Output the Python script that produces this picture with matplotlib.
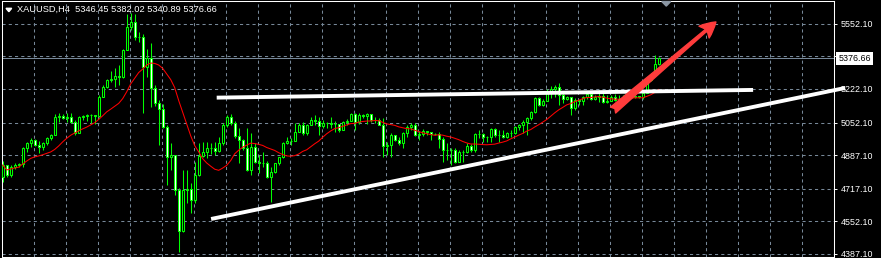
import matplotlib
matplotlib.use("Agg")
import matplotlib.pyplot as plt
from matplotlib.patches import Polygon
import numpy as np
import pandas as pd

plt.rcParams['font.family'] = ['Liberation Sans', 'DejaVu Sans']

symbol = "XAUUSD,H4"
first_open = 4776
closes = [
    4837, 4787, 4827, 4837, 4842, 4923, 4948, 4964, 4938, 4928,
    4948, 4974, 4989, 5080, 5085, 5075, 5080, 5055, 4999, 5080,
    5085, 5090, 5090, 5085, 5181, 5232, 5267, 5272, 5287, 5282,
    5419, 5535, 5561, 5485, 5485, 5333, 5379, 5227, 5151, 5120,
    5029, 4878, 4888, 4711, 4503, 4711, 4716, 4660, 4787, 4883,
    4903, 4923, 4923, 4908, 4948, 5040, 5080, 5050, 4984, 4964,
    4923, 4812, 4928, 4852, 4847, 4847, 4776, 4802, 4847, 4878,
    4948, 4959, 4959, 5004, 5040, 4999, 5040, 5065, 5060, 5034,
    5050, 5050, 5045, 5045, 5014, 5055, 5060, 5095, 5055, 5090,
    5085, 5095, 5065, 5065, 5040, 4933, 4938, 4989, 4964, 4948,
    4999, 5029, 5040, 4989, 4994, 5009, 5004, 4994, 4994, 4969,
    4913, 4913, 4913, 4852, 4903, 4903, 4933, 4913, 4994, 4994,
    4979, 4979, 5019, 4989, 4989, 4979, 4999, 4999, 5029, 5040,
    5055, 5075, 5105, 5176, 5141, 5161, 5201, 5222, 5232, 5191,
    5171, 5181, 5126, 5166, 5161, 5181, 5196, 5171, 5181, 5186,
    5156, 5161, 5181, 5166, 5171, 5176, 5186, 5181, 5186, 5181,
    5201, 5267, 5293, 5346.45, 5376.66,
]
highs = [
    4857, 4837, 4837, 4847, 4847, 4928, 4953, 4974, 4969, 4959,
    4953, 4979, 4994, 5095, 5100, 5095, 5100, 5100, 5065, 5085,
    5090, 5095, 5095, 5090, 5191, 5242, 5272, 5313, 5328, 5343,
    5424, 5601, 5606, 5601, 5510, 5500, 5424, 5454, 5242, 5166,
    5146, 5040, 4948, 4888, 4721, 4812, 4812, 4746, 4852, 4948,
    4953, 4953, 4948, 4953, 4979, 5050, 5090, 5095, 5060, 5024,
    4969, 5024, 4999, 4948, 4888, 4903, 4857, 4827, 4847, 4878,
    4953, 4979, 4974, 5050, 5050, 5055, 5045, 5080, 5090, 5080,
    5065, 5055, 5080, 5060, 5045, 5060, 5070, 5100, 5100, 5100,
    5095, 5100, 5075, 5080, 5075, 5075, 4953, 4999, 4989, 4979,
    5004, 5040, 5050, 5050, 5009, 5019, 5009, 5004, 4999, 5004,
    4979, 4948, 4923, 4923, 4913, 4913, 4948, 4943, 4999, 5014,
    4999, 4984, 5024, 5024, 5014, 5014, 5004, 5014, 5034, 5045,
    5065, 5080, 5110, 5181, 5181, 5171, 5222, 5237, 5242, 5252,
    5201, 5186, 5181, 5176, 5166, 5186, 5201, 5196, 5191, 5217,
    5201, 5191, 5191, 5196, 5191, 5191, 5191, 5186, 5191, 5186,
    5206, 5277, 5303, 5394, 5382.02,
]
lows = [
    4751, 4776, 4776, 4817, 4827, 4827, 4903, 4928, 4933, 4898,
    4913, 4938, 4964, 4994, 5055, 5070, 5055, 5050, 4989, 5009,
    5065, 5060, 5050, 5045, 5080, 5181, 5227, 5257, 5232, 5242,
    5277, 5419, 5520, 5470, 5459, 5100, 5282, 5131, 5136, 4938,
    5024, 4736, 4812, 4685, 4397, 4498, 4645, 4594, 4645, 4781,
    4878, 4873, 4893, 4888, 4903, 4938, 5029, 5040, 4974, 4847,
    4913, 4807, 4787, 4847, 4797, 4827, 4771, 4650, 4797, 4837,
    4873, 4943, 4938, 4979, 5004, 4989, 4989, 5040, 5040, 4989,
    5024, 5024, 5024, 5004, 5004, 5019, 5040, 5060, 5014, 5045,
    5075, 5045, 5055, 5050, 5040, 4878, 4888, 4878, 4959, 4938,
    4923, 4979, 5014, 4984, 4964, 4984, 4989, 4964, 4989, 4923,
    4852, 4862, 4837, 4847, 4862, 4852, 4898, 4903, 4903, 4974,
    4953, 4953, 4953, 4979, 4953, 4974, 4974, 4979, 4994, 5014,
    4999, 4989, 5065, 5100, 5136, 5136, 5161, 5176, 5181, 5141,
    5151, 5166, 5090, 5115, 5141, 5141, 5171, 5166, 5166, 5156,
    5151, 5151, 5171, 5161, 5141, 5141, 5176, 5176, 5176, 5176,
    5171, 5201, 5262, 5298, 5340.89,
]
price_ticks = [5552.10, 5387.10, 5222.10, 5052.10, 4887.10, 4717.10, 4552.10, 4387.10]
ma_period = 14

# drawn objects as (bar index, price)
resistance = [(53.5, 5178), (187.6, 5217)]
support = [(52.1, 4564), (210.6, 5227)]
arrow_tail = (152.6, 5115)
arrow_tip = (178.3, 5561)

GREEN = "#00ff00"
GRID = "#778899"

opens = [first_open] + closes[:-1]
x = np.arange(len(closes))
ma = pd.Series(closes).rolling(ma_period, min_periods=1).mean()

fig = plt.figure(figsize=(8.81, 2.58), dpi=100, facecolor="black")
ax = fig.add_axes([2 / 881, 1 / 258, 832 / 881, 256 / 258])
ax.set_facecolor("black")
ax.set_xlim(-0.175, 207.8)
ax.set_ylim(4371.6, 5667)

# grid
ax.set_xticks(np.arange(7.825, 208, 8))
ax.set_yticks(price_ticks)
ax.grid(True, color=GRID, linestyle=(0, (3, 3)), linewidth=0.75, zorder=0)
ax.set_axisbelow(True)

# candles
ax.vlines(x, lows, highs, color=GREEN, linewidth=0.75, zorder=2)
for i in x:
    o, c = opens[i], closes[i]
    fill = "black" if c > o else "white"
    ax.bar(i, abs(c - o), width=0.6, bottom=min(o, c), color=fill,
           edgecolor=GREEN, linewidth=0.75, zorder=3)

# moving average
ax.plot(x, ma, color="#ff0000", linewidth=0.75, zorder=4)

# bid line
ax.axhline(closes[-1], color=GRID, linewidth=0.75, zorder=1)

# trend lines and arrow
for (x0, p0), (x1, p1) in [resistance, support]:
    ax.plot([x0, x1], [p0, p1], color="white", linewidth=2.8,
            solid_capstyle="butt", clip_on=False, zorder=6)
ax.annotate("", xy=arrow_tip, xytext=arrow_tail, annotation_clip=False,
            arrowprops=dict(arrowstyle="fancy,head_length=0.8,head_width=0.8,tail_width=0.4",
                            color="#ff3c3c", mutation_scale=14, shrinkA=0, shrinkB=0),
            zorder=7)

# axes styling
for s in ax.spines.values():
    s.set_color("white")
    s.set_linewidth(0.75)
ax.yaxis.tick_right()
# the 5387.10 label sits under the bid price box in the terminal
ax.set_yticklabels(["" if abs(v - 5387.10) < 0.01 else f"{v:.2f}" for v in price_ticks])
ax.tick_params(axis="y", colors="white", length=2.2, width=0.7, pad=2.4, labelsize=6.4)
ax.tick_params(axis="x", length=0, labelbottom=False)

# current price box
ax.annotate(f"{closes[-1]:.2f}", xy=(1, closes[-1]), xycoords=("axes fraction", "data"),
            xytext=(3.2, 0), textcoords="offset points", va="center", ha="left",
            fontsize=6.4, color="black", annotation_clip=False,
            bbox=dict(boxstyle="square,pad=0.25", fc="white", ec="none"), zorder=8)

# shift marker
ax.add_patch(Polygon([(0.793, 0.998), (0.8037, 0.998), (0.7984, 0.980)], closed=True,
                     transform=ax.transAxes, color="#8a96a3", clip_on=False, zorder=8))

# header
fig.patches.append(Polygon([(6 / 881, 1 - 8.3 / 258), (11.7 / 881, 1 - 8.3 / 258),
                            (8.85 / 881, 1 - 11.7 / 258)], closed=True,
                           transform=fig.transFigure, color="white"))
o, h, l, c = opens[-1], highs[-1], lows[-1], closes[-1]
fig.text(16.7 / 881, 1 - 9.4 / 258, f"{symbol}  {o:.2f} {h:.2f} {l:.2f} {c:.2f}",
         color="white", fontsize=6.7, va="center", ha="left")

fig.savefig("out.png", dpi=100, facecolor="black")
